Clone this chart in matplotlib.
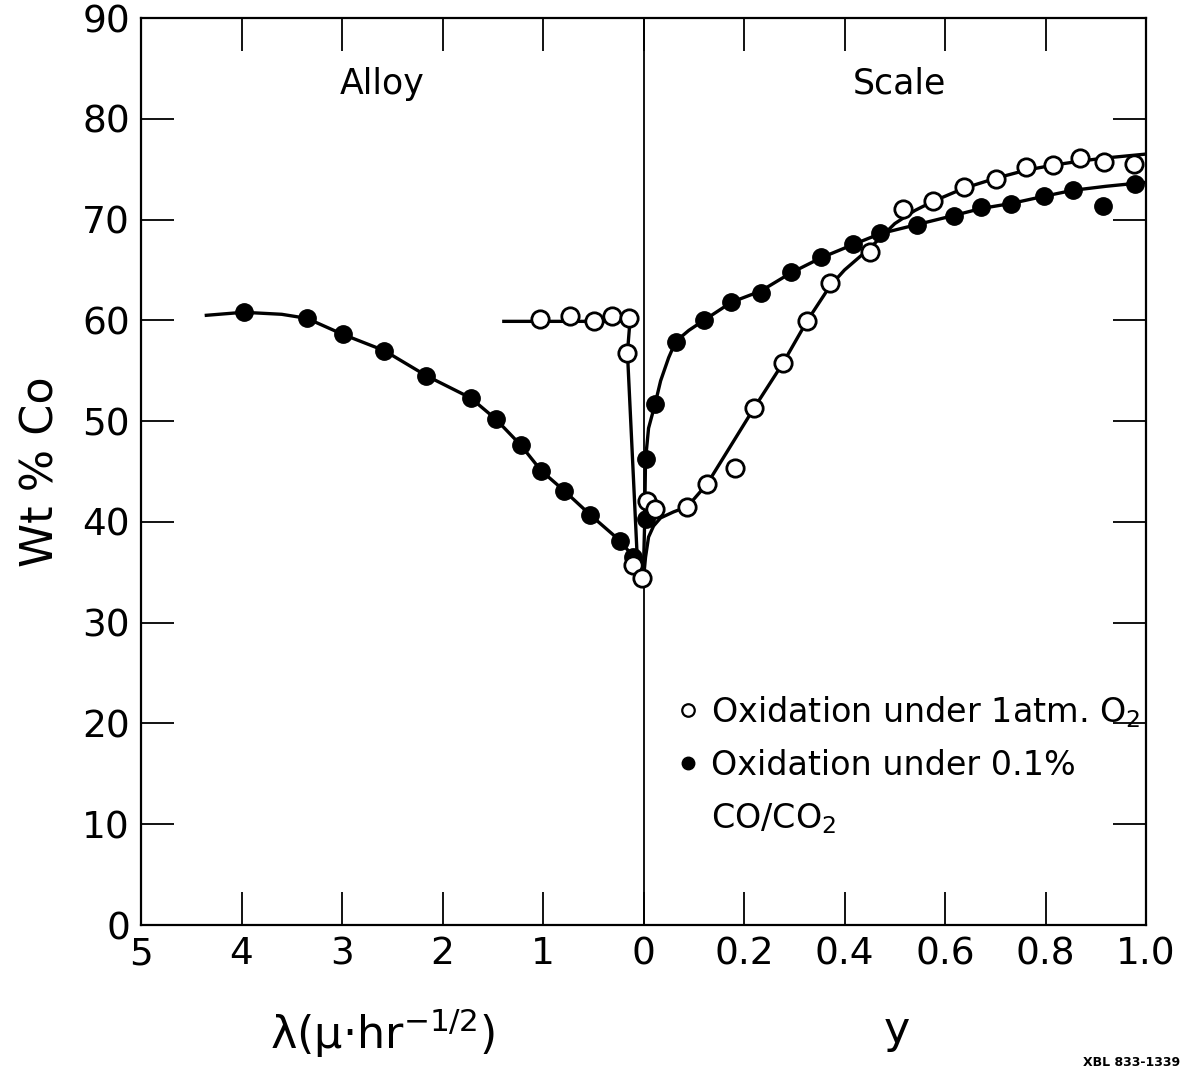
import matplotlib
matplotlib.use("Agg")
import matplotlib.pyplot as plt
from matplotlib.lines import Line2D
import numpy as np

# ---------------- data ----------------
# Alloy side: lambda (mu*hr^-1/2), Wt% Co
closed_alloy_lam = [3.98, 3.35, 2.99, 2.58, 2.16, 1.72, 1.47, 1.22, 1.02, 0.79, 0.53, 0.23, 0.10]
closed_alloy_wt = [60.8, 60.2, 58.6, 57.0, 54.5, 52.3, 50.2, 47.6, 45.1, 43.1, 40.7, 38.1, 36.5]
open_alloy_lam = [1.03, 0.73, 0.49, 0.31, 0.14, 0.16, 0.10, 0.02]
open_alloy_wt = [60.1, 60.4, 59.9, 60.4, 60.2, 56.8, 35.7, 34.4]

# Scale side: y, Wt% Co
closed_scale_y = [0.004, 0.004, 0.023, 0.064, 0.12, 0.175, 0.233, 0.293, 0.353, 0.416,
                  0.471, 0.544, 0.617, 0.672, 0.732, 0.796, 0.854, 0.914, 0.978]
closed_scale_wt = [40.3, 46.2, 51.7, 57.9, 60.0, 61.8, 62.7, 64.8, 66.3, 67.6,
                   68.7, 69.5, 70.4, 71.2, 71.5, 72.3, 72.9, 71.3, 73.5]
open_scale_y = [0.006, 0.023, 0.087, 0.127, 0.183, 0.22, 0.278, 0.325, 0.371, 0.451,
                0.517, 0.576, 0.637, 0.701, 0.761, 0.815, 0.869, 0.917, 0.977]
open_scale_wt = [42.1, 41.3, 41.5, 43.8, 45.3, 51.3, 55.8, 59.9, 63.7, 66.8,
                 71.0, 71.8, 73.2, 74.0, 75.2, 75.4, 76.1, 75.7, 75.5]

# Drawn (hand-fitted) curves
closed_curve_alloy_lam = [4.35, 3.98, 3.6, 3.35, 2.99, 2.58, 2.16, 1.72, 1.47, 1.22, 1.02,
                          0.79, 0.53, 0.23, 0.10, 0.03]
closed_curve_alloy_wt = [60.5, 60.8, 60.6, 60.2, 58.6, 57.0, 54.5, 52.3, 50.2, 47.6, 45.1,
                         43.1, 40.7, 38.1, 36.5, 35.5]
closed_curve_scale_y = [0.0, 0.002, 0.004, 0.010, 0.023, 0.034, 0.050, 0.064, 0.09, 0.12,
                        0.175, 0.233, 0.293, 0.353, 0.416, 0.471, 0.544, 0.617, 0.672,
                        0.732, 0.796, 0.854, 0.92, 1.0]
closed_curve_scale_wt = [35.5, 39.5, 46.2, 49.3, 51.7, 54.0, 56.3, 57.9, 59.0, 60.0,
                         61.8, 62.9, 64.7, 66.2, 67.5, 68.6, 69.5, 70.4, 71.1,
                         71.6, 72.3, 72.9, 73.3, 73.7]
open_curve_alloy_lam = [1.39, 1.03, 0.73, 0.49, 0.31, 0.16, 0.14, 0.16, 0.06, 0.02]
open_curve_alloy_wt = [59.9, 59.9, 59.9, 59.9, 59.9, 59.9, 59.3, 56.8, 35.9, 34.4]
open_curve_scale_y = [0.0, 0.004, 0.010, 0.020, 0.034, 0.060, 0.087, 0.127, 0.22, 0.278,
                      0.325, 0.371, 0.40, 0.451, 0.50, 0.540, 0.576, 0.637, 0.701, 0.761,
                      0.815, 0.869, 0.917, 1.0]
open_curve_scale_wt = [34.4, 36.5, 38.5, 39.6, 40.4, 41.0, 41.5, 43.8, 51.3, 55.8,
                       59.9, 63.4, 65.0, 67.2, 69.6, 70.9, 71.8, 73.1, 74.1, 74.9,
                       75.4, 75.8, 76.1, 76.5]

x_tick_labels = ["5", "4", "3", "2", "1", "0", "0.2", "0.4", "0.6", "0.8", "1.0"]
y_ticks = [0, 10, 20, 30, 40, 50, 60, 70, 80, 90]

# ---------------- plotting ----------------
FONT = ["DejaVu Sans"]
plt.rcParams["font.family"] = FONT

fig = plt.figure(figsize=(11.87, 10.72), dpi=100)
ax = fig.add_axes([0.1188, 0.1371, 0.8467, 0.8461])

def alloy_u(lam):
    return -np.asarray(lam, dtype=float)

def scale_u(y):
    return 5.0 * np.asarray(y, dtype=float)

lw = 2.4
# curves
ax.plot(alloy_u(closed_curve_alloy_lam), closed_curve_alloy_wt, color="black", lw=lw, zorder=2)
ax.plot(scale_u(closed_curve_scale_y), closed_curve_scale_wt, color="black", lw=lw, zorder=2)
ax.plot(alloy_u(open_curve_alloy_lam), open_curve_alloy_wt, color="black", lw=lw, zorder=2)
ax.plot(scale_u(open_curve_scale_y), open_curve_scale_wt, color="black", lw=lw, zorder=2)

ms = 12.5
ax.plot(alloy_u(closed_alloy_lam), closed_alloy_wt, "o", ms=ms, mfc="black", mec="black", zorder=3)
ax.plot(scale_u(closed_scale_y), closed_scale_wt, "o", ms=ms, mfc="black", mec="black", zorder=3)
ax.plot(alloy_u(open_alloy_lam), open_alloy_wt, "o", ms=ms, mfc="white", mec="black", mew=2.0, zorder=4)
ax.plot(scale_u(open_scale_y), open_scale_wt, "o", ms=ms, mfc="white", mec="black", mew=2.0, zorder=4)

ax.axvline(0, color="black", lw=1.3, zorder=1)

ax.set_xlim(-5, 5)
ax.set_ylim(0, 90)
ax.set_xticks(np.arange(-5, 6, 1))
ax.set_xticklabels(x_tick_labels)
ax.set_yticks(y_ticks)
ax.set_yticklabels([str(v) for v in y_ticks])
ax.tick_params(axis="both", direction="in", length=24, width=1.3, labelsize=27,
               top=True, right=True, pad=8)
for s in ax.spines.values():
    s.set_linewidth(1.6)

ax.set_ylabel("Wt % Co", fontsize=32, labelpad=14)

ax.text(-2.6, 83.5, "Alloy", fontsize=25, ha="center", va="center")
ax.text(2.55, 83.5, "Scale", fontsize=25, ha="center", va="center")

fig.text(382 / 1187, 1 - 1033 / 1072, "λ(μ·hr$^{-1/2}$)", fontsize=32,
         ha="center", va="center")
fig.text(897 / 1187, 1 - 1030 / 1072, "y", fontsize=32, ha="center", va="center")
fig.text(1132 / 1187, 1 - 1063 / 1072, "XBL 833-1339", fontsize=9, fontweight="bold",
         ha="center", va="center")

handles = [
    Line2D([], [], ls="none", marker="o", ms=9, mfc="white", mec="black", mew=1.6),
    Line2D([], [], ls="none", marker="o", ms=9, mfc="black", mec="black"),
    Line2D([], [], ls="none", marker="none"),
]
labels = ["Oxidation under 1atm. O$_2$", "Oxidation under 0.1%", "CO/CO$_2$"]
leg = ax.legend(handles, labels, loc="upper left",
                bbox_to_anchor=(678 / 1187, 1 - 694 / 1072), bbox_transform=fig.transFigure,
                frameon=False, fontsize=24, handlelength=0.6, handletextpad=0.4,
                labelspacing=0.58, borderpad=0, borderaxespad=0)

fig.savefig("out.png", dpi=100)
